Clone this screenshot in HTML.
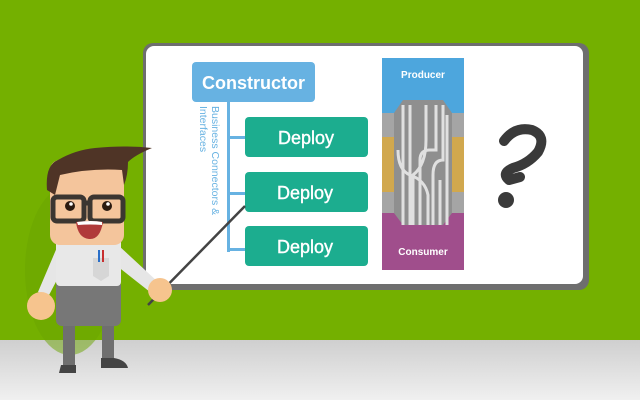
<!DOCTYPE html>
<html><head><meta charset="utf-8"><style>
html,body{margin:0;padding:0}
body{width:640px;height:400px;overflow:hidden;background:#74b000;font-family:"Liberation Sans",sans-serif}
svg{display:block}
</style></head><body>
<svg width="640" height="400" viewBox="0 0 640 400" xmlns="http://www.w3.org/2000/svg">
<defs>
<linearGradient id="gr" x1="0" y1="0" x2="0" y2="1"><stop offset="0" stop-color="#cfcfcf"/><stop offset="1" stop-color="#f0f0f0"/></linearGradient>
</defs>
<rect width="640" height="400" fill="#74b000"/>
<rect x="0" y="340" width="640" height="60" fill="url(#gr)"/>
<!-- whiteboard -->
<rect x="143" y="43" width="446" height="247" rx="10" fill="#6e6e6e"/>
<rect x="146" y="46" width="437" height="238" rx="8" fill="#ffffff"/>
<!-- diagram -->
<rect x="192" y="62" width="123" height="40" rx="4" fill="#67b2e2"/>
<text x="253.5" y="89" text-anchor="middle" font-size="18" font-weight="bold" fill="#fff">Constructor</text>
<rect x="227" y="102" width="3" height="150" fill="#67b2e2"/>
<rect x="227" y="136" width="19" height="3" fill="#67b2e2"/>
<rect x="227" y="192" width="19" height="3" fill="#67b2e2"/>
<rect x="227" y="248" width="19" height="3" fill="#67b2e2"/>
<text transform="translate(212,106) rotate(90)" font-size="10.5" fill="#67b2e2">Business Connectors &amp;</text>
<text transform="translate(200,106) rotate(90)" font-size="10.5" fill="#67b2e2">Interfaces</text>
<g fill="#1cad8f"><rect x="245" y="117" width="123" height="40" rx="4"/><rect x="245" y="172" width="123" height="40" rx="4"/><rect x="245" y="226" width="123" height="40" rx="4"/></g>
<g font-size="18" fill="#fff" text-anchor="middle" stroke="#fff" stroke-width="0.4"><text x="306" y="144">Deploy</text><text x="305" y="199">Deploy</text><text x="305" y="253">Deploy</text></g>
<!-- producer/consumer -->
<rect x="382" y="58" width="82" height="55" fill="#4da6dd"/>
<rect x="382" y="113" width="82" height="102" fill="#a5a5a5"/>
<rect x="382" y="137" width="82" height="55" fill="#d1a84e"/>
<rect x="382" y="213" width="82" height="57" fill="#a04e8c"/>
<polygon points="403,100 443,100 452,113 452,213 443,225 403,225 394,213 394,113" fill="#8f8f8f"/>
<g stroke="#e0e0e0" stroke-width="3" fill="none">
<path d="M403 225 V105 M410 225 V105 M420 225 V160 Q420 150 430 150 H436 V105 M426 105 V140 Q426 165 413 175 V225 M433 225 V175 Q433 160 443 160 V105 M440 225 V180 M447 225 V115"/>
<path d="M398 150 Q398 170 410 175 Q425 180 428 195 V225"/>
</g>
<text x="423" y="78" text-anchor="middle" font-size="10" font-weight="bold" fill="#fff">Producer</text>
<text x="423" y="255" text-anchor="middle" font-size="10" font-weight="bold" fill="#fff">Consumer</text>
<!-- question mark -->
<path d="M504 141 Q515 126 532 130 Q547 136 538 152 Q528 164 513 168 Q501 173 509 180 L520 177" stroke="#3a3a3a" stroke-width="10" fill="none" stroke-linecap="round" stroke-linejoin="round"/>
<circle cx="506" cy="200" r="8" fill="#3a3a3a"/>
<!-- character shadow -->
<ellipse cx="70" cy="270" rx="45" ry="85" fill="#6aa300" opacity="0.5"/>
<!-- legs -->
<rect x="63" y="315" width="12" height="55" fill="#6f6f6f"/>
<rect x="102" y="315" width="12" height="48" fill="#6f6f6f"/>
<path d="M61 365 h15 v8 h-17 z" fill="#444"/>
<path d="M101 358 h13 q12 2 14 10 h-27 z" fill="#444"/>
<!-- pants -->
<rect x="56" y="280" width="65" height="46" rx="6" fill="#777"/>
<!-- arms -->
<path d="M58 245 L38 292 L48 297 L70 255 Z" fill="#e6e6e6"/>
<path d="M118 245 L158 282 L150 292 L112 262 Z" fill="#e6e6e6"/>
<!-- shirt -->
<rect x="56" y="238" width="65" height="48" rx="4" fill="#e8e8e8"/>
<path d="M93 258 h16 v18 l-8 5 l-8 -5 z" fill="#d6d6d6"/>
<rect x="98" y="250" width="2" height="12" fill="#2a6fc8"/><rect x="102" y="250" width="2" height="12" fill="#c83030"/>
<!-- pointer -->
<line x1="148" y1="305" x2="245" y2="206" stroke="#444" stroke-width="2.5"/>
<!-- hands -->
<ellipse cx="41" cy="306" rx="14" ry="14" fill="#f6c48e"/>
<ellipse cx="160" cy="290" rx="12" ry="12" fill="#f6c48e"/>
<!-- head -->
<rect x="50" y="160" width="74" height="85" rx="10" fill="#f4c59c"/>
<path d="M47 190 Q45 165 58 160 Q75 150 95 148 Q125 145 152 148 Q135 155 128 162 Q128 175 124 185 L122 170 Q90 168 60 175 L55 195 Z" fill="#4f3426"/>
<!-- glasses -->
<g fill="none" stroke="#3b3631" stroke-width="5"><rect x="53" y="197" width="31" height="24" rx="4"/><rect x="90" y="197" width="33" height="24" rx="4"/><line x1="84" y1="203" x2="90" y2="203"/></g>
<circle cx="70" cy="206" r="5" fill="#2a1a10"/><circle cx="107" cy="206" r="5" fill="#2a1a10"/>
<circle cx="71" cy="204" r="1.8" fill="#fff"/><circle cx="108" cy="204" r="1.8" fill="#fff"/>
<path d="M76 222 Q92 220 103 222 Q100 240 89 239 Q78 238 76 222 Z" fill="#b03a3a"/>
<path d="M77 222 Q92 220 102 222 L102 225 Q90 224 78 225 Z" fill="#fff"/>
</svg>
</body></html>
